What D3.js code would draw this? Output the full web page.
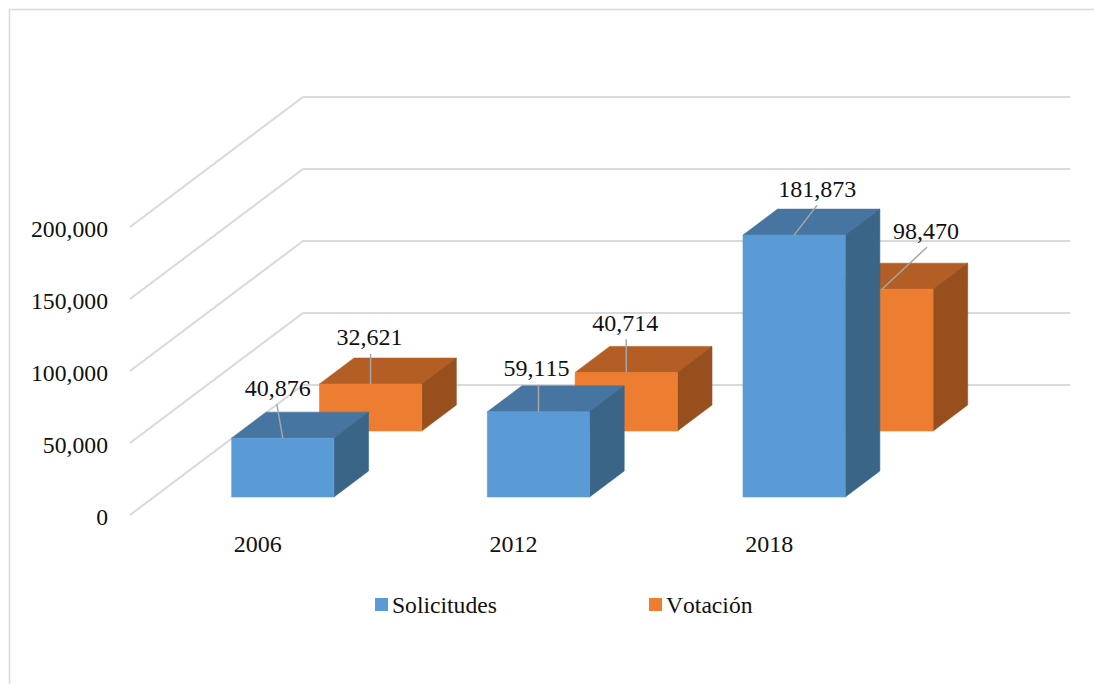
<!DOCTYPE html>
<html><head><meta charset="utf-8">
<script src="https://cdn.jsdelivr.net/npm/d3@7/dist/d3.min.js"></script>
<style>html,body{margin:0;padding:0;background:#fff}svg{display:block}
text{font-family:"Liberation Serif","Times New Roman",serif;fill:#111;font-kerning:none}</style>
</head><body><div id="c"></div>
<script>
const categories = ["2006", "2012", "2018"];
const seriesNames = ["Solicitudes", "Votación"];
const solicitudes = [40876, 59115, 181873];
const votacion = [32621, 40714, 98470];
const yTicks = [0, 50000, 100000, 150000, 200000];
const seriesColors = {
  "Solicitudes": {front: "#5b9bd5", top: "#4675a1", side: "#3a6587"},
  "Votación": {front: "#ed7d31", top: "#b35e24", side: "#974f1d"}
};
// leader-line ends and label anchors, relative to the front-top-centre of each bar
const labelLayout = {
  "Solicitudes": [{lx:-6,ly:-34,tx:-5,ty:-51},{lx:0,ly:-27,tx:-2,ty:-44},{lx:23,ly:-30,tx:23,ty:-46}],
  "Votación": [{lx:0,ly:-30,tx:-1,ty:-47},{lx:0,ly:-33,tx:-1,ty:-50},{lx:45,ly:-42,tx:44,ty:-59}]
};

const W = 1094, H = 684, FS = 24;
const fmt = d3.format(",");
const svg = d3.select("#c").append("svg").attr("width", W).attr("height", H);

// oblique projection of the 3D box: x along the floor, d into the depth, v height
const floor = {x0: 130, y0: 515, dx: 173, dy: 130, width: 767};
const x = d3.scaleBand().domain(categories).range([floor.x0 + 1, floor.x0 + 1 + floor.width]).paddingInner(0.6).paddingOuter(0.3);
const z = d3.scaleBand().domain(seriesNames).range([0.1385, 0.846]).paddingInner(0.606).paddingOuter(0);
const h = d3.scaleLinear().domain([0, 200000]).range([0, 288]);
const P = (px, d, v) => [px + d * floor.dx, floor.y0 - d * floor.dy - h(v)];
const poly = pts => "M" + pts.map(p => p.join(",")).join("L") + "Z";

// outer frame
svg.append("path").attr("d", `M${W},9.5H9.5V${H}`).attr("fill", "none").attr("stroke", "#d9d9d9").attr("stroke-width", 1.5);

// gridlines: left wall + back wall
const L = floor.x0, R = floor.x0 + floor.width;
svg.append("g").selectAll("path").data(yTicks).join("path")
  .attr("d", v => "M" + [P(L, 0, v), P(L, 1, v), P(R, 1, v)].map(p => p.join(",")).join("L"))
  .attr("fill", "none").attr("stroke", "#d9d9d9").attr("stroke-width", 2);

// axes
const yAxisScale = d3.scaleLinear().domain([0, 200000]).range([floor.y0, floor.y0 - h(200000)]);
const yAxis = svg.append("g").attr("transform", "translate(117,2)")
  .call(d3.axisLeft(yAxisScale).tickValues(yTicks).tickFormat(fmt).tickSize(0).tickPadding(9));
yAxis.select(".domain").remove();
yAxis.selectAll("text").attr("font-size", FS - 0.3).attr("font-family", null).style("fill", "#111");

const xAxis = svg.append("g").attr("transform", "translate(-1,529)")
  .call(d3.axisBottom(x).tickSize(0).tickPadding(0));
xAxis.select(".domain").remove();
xAxis.selectAll("text").attr("font-size", FS).attr("font-family", null).attr("dy", "0.95em").style("fill", "#111");

// bars: back series first
const rows = [
  {name: "Votación", vals: votacion},
  {name: "Solicitudes", vals: solicitudes}
];
const bars = svg.append("g");
rows.forEach(s => {
  const c = seriesColors[s.name], d0 = z(s.name), d1 = d0 + z.bandwidth();
  s.vals.forEach((v, i) => {
    const a = x(categories[i]), b = a + x.bandwidth();
    const g = bars.append("g").attr("stroke-width", 0.6).attr("stroke-linejoin", "round");
    g.append("path").attr("d", poly([P(a,d0,v),P(b,d0,v),P(b,d1,v),P(a,d1,v)])).attr("fill", c.top).attr("stroke", c.top);
    g.append("path").attr("d", poly([P(b,d0,0),P(b,d0,v),P(b,d1,v),P(b,d1,0)])).attr("fill", c.side).attr("stroke", c.side);
    g.append("path").attr("d", poly([P(a,d0,0),P(b,d0,0),P(b,d0,v),P(a,d0,v)])).attr("fill", c.front).attr("stroke", c.front);
  });
});

// leaders and value labels
const labels = svg.append("g");
rows.forEach(s => {
  s.vals.forEach((v, i) => {
    const a = x(categories[i]);
    const [cx, cy] = P(a + x.bandwidth() / 2, z(s.name), v);
    const o = labelLayout[s.name][i];
    labels.append("line").attr("x1", cx).attr("y1", cy).attr("x2", cx + o.lx).attr("y2", cy + o.ly)
      .attr("stroke", "#a6a6a6").attr("stroke-width", 1.5);
    labels.append("text").attr("x", cx + o.tx).attr("y", cy + o.ty).attr("text-anchor", "middle")
      .attr("dy", "0.35em").attr("font-size", FS).text(fmt(v));
  });
});

// legend
const legendX = d3.scalePoint().domain(seriesNames).range([375, 649]);
const legend = svg.append("g").selectAll("g").data(seriesNames).join("g")
  .attr("transform", d => `translate(${legendX(d)},598)`);
legend.append("rect").attr("width", 13).attr("height", 13).attr("fill", d => seriesColors[d].front);
legend.append("text").attr("x", 17).attr("y", 7).attr("dy", "0.35em").attr("font-size", FS - 0.4).text(d => d);
</script></body></html>
